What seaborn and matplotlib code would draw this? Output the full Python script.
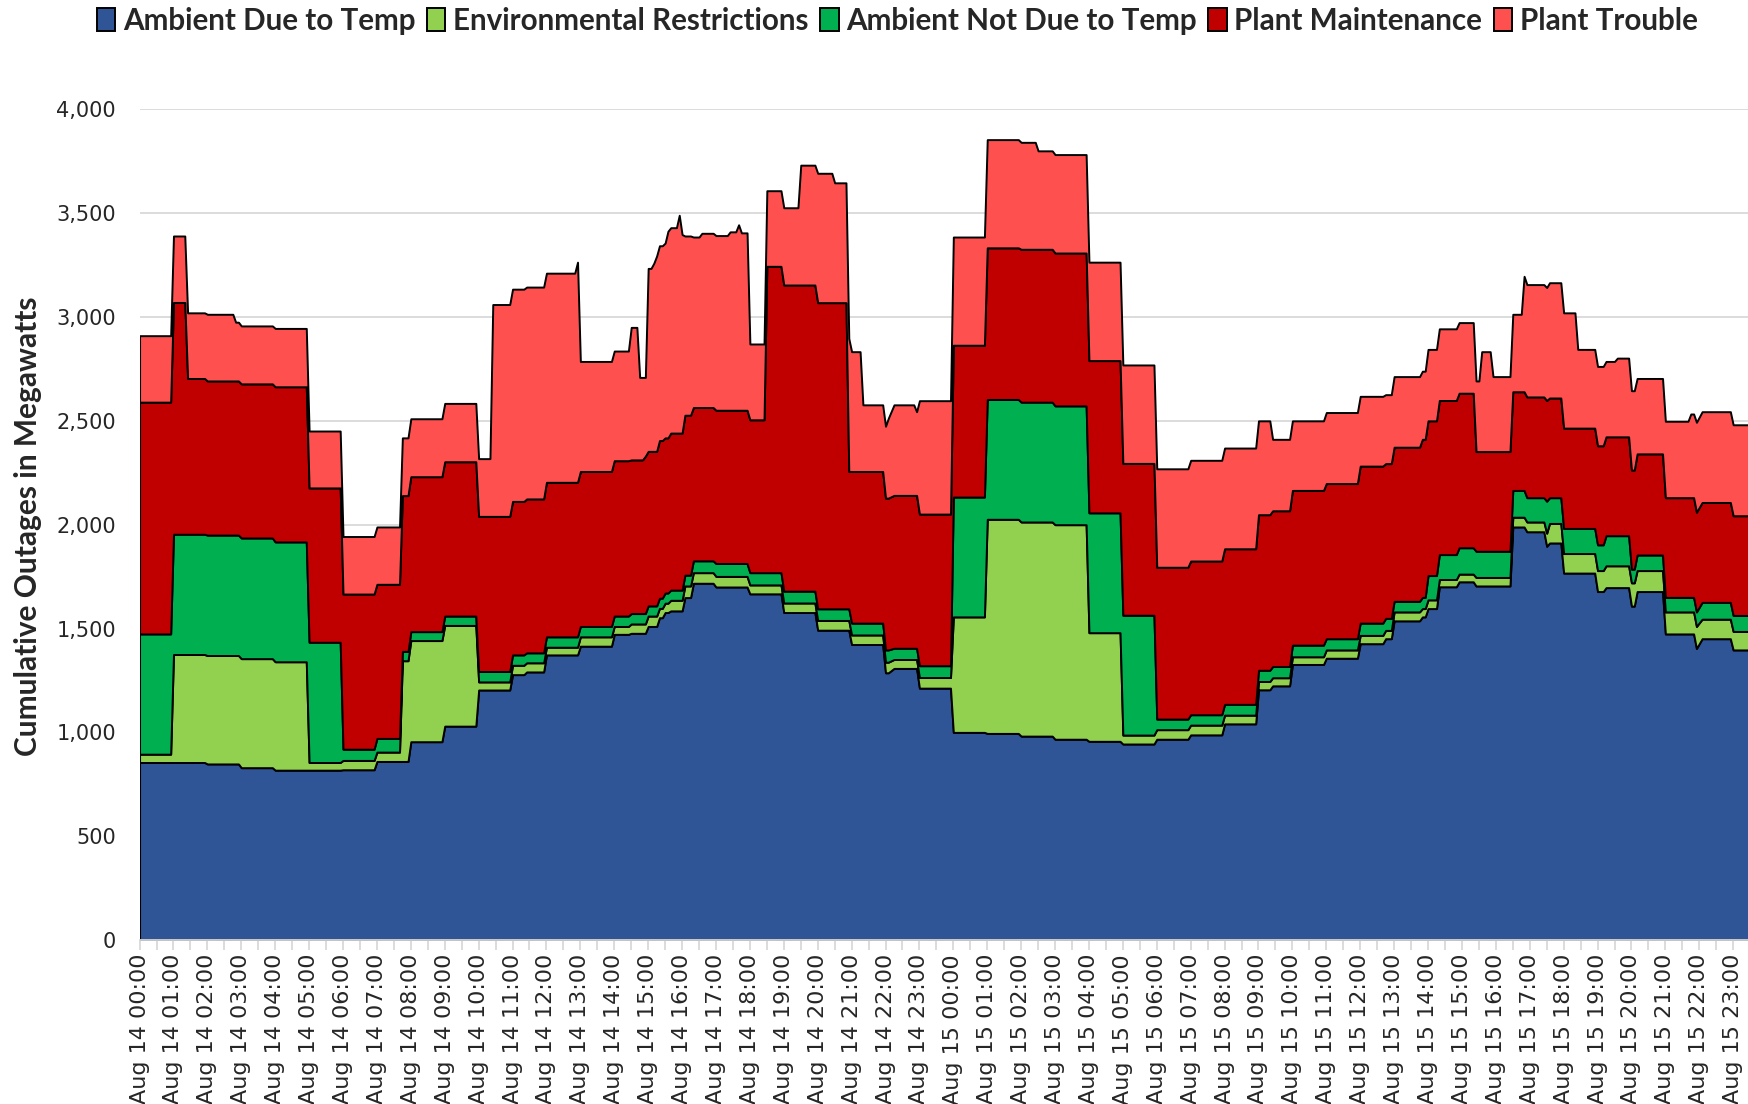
import pandas as pd
import matplotlib
matplotlib.use("Agg")
import matplotlib.pyplot as plt
import matplotlib.dates as mdates
import matplotlib.ticker as mticker
import seaborn as sns

# 5-minute readings at the points where the stack changes (MW)
stamps = [
    "08-14 00:00", "08-14 00:55", "08-14 01:00", "08-14 01:20", "08-14 01:25", "08-14 01:55",
    "08-14 02:00", "08-14 02:45", "08-14 02:50", "08-14 02:55", "08-14 03:00", "08-14 03:55",
    "08-14 04:00", "08-14 04:55", "08-14 05:00", "08-14 05:55", "08-14 06:00", "08-14 06:55",
    "08-14 07:00", "08-14 07:40", "08-14 07:45", "08-14 07:55", "08-14 08:00", "08-14 08:55",
    "08-14 09:00", "08-14 09:55", "08-14 10:00", "08-14 10:20", "08-14 10:25", "08-14 10:55",
    "08-14 11:00", "08-14 11:20", "08-14 11:25", "08-14 11:55", "08-14 12:00", "08-14 12:50",
    "08-14 12:55", "08-14 13:00", "08-14 13:55", "08-14 14:00", "08-14 14:25", "08-14 14:30",
    "08-14 14:40", "08-14 14:45", "08-14 14:50", "08-14 14:55", "08-14 15:00", "08-14 15:05",
    "08-14 15:10", "08-14 15:15", "08-14 15:20", "08-14 15:25", "08-14 15:30", "08-14 15:35",
    "08-14 15:40", "08-14 15:50", "08-14 15:55", "08-14 16:00", "08-14 16:05", "08-14 16:15",
    "08-14 16:20", "08-14 16:30", "08-14 16:35", "08-14 16:55", "08-14 17:00", "08-14 17:20",
    "08-14 17:25", "08-14 17:35", "08-14 17:40", "08-14 17:45", "08-14 17:55", "08-14 18:00",
    "08-14 18:25", "08-14 18:30", "08-14 18:55", "08-14 19:00", "08-14 19:25", "08-14 19:30",
    "08-14 19:55", "08-14 20:00", "08-14 20:25", "08-14 20:30", "08-14 20:50", "08-14 20:55",
    "08-14 21:00", "08-14 21:15", "08-14 21:20", "08-14 21:55", "08-14 22:00", "08-14 22:05",
    "08-14 22:15", "08-14 22:50", "08-14 22:55", "08-14 23:00", "08-14 23:55",
    "08-15 00:00", "08-15 00:55", "08-15 01:00", "08-15 01:55", "08-15 02:00", "08-15 02:25",
    "08-15 02:30", "08-15 02:55", "08-15 03:00", "08-15 03:55", "08-15 04:00", "08-15 04:55",
    "08-15 05:00", "08-15 05:55", "08-15 06:00", "08-15 06:55", "08-15 07:00", "08-15 07:55",
    "08-15 08:00", "08-15 08:55", "08-15 09:00", "08-15 09:20", "08-15 09:25", "08-15 09:55",
    "08-15 10:00", "08-15 10:55", "08-15 11:00", "08-15 11:55", "08-15 12:00", "08-15 12:40",
    "08-15 12:45", "08-15 12:55", "08-15 13:00", "08-15 13:45", "08-15 13:50", "08-15 13:55",
    "08-15 14:00", "08-15 14:15", "08-15 14:20", "08-15 14:50", "08-15 14:55", "08-15 15:20",
    "08-15 15:25", "08-15 15:30", "08-15 15:35", "08-15 15:50", "08-15 15:55", "08-15 16:25",
    "08-15 16:30", "08-15 16:45", "08-15 16:50", "08-15 16:55", "08-15 17:25", "08-15 17:30",
    "08-15 17:35", "08-15 17:55", "08-15 18:00", "08-15 18:20", "08-15 18:25", "08-15 18:55",
    "08-15 19:00", "08-15 19:10", "08-15 19:15", "08-15 19:30", "08-15 19:35", "08-15 19:55",
    "08-15 20:00", "08-15 20:05", "08-15 20:10", "08-15 20:55", "08-15 21:00", "08-15 21:40",
    "08-15 21:45", "08-15 21:50", "08-15 21:55", "08-15 22:05", "08-15 22:55", "08-15 23:00",
    "08-15 23:30",
]

ambient_temp = [
    855, 855, 855, 855, 855, 855,
    848, 848, 848, 848, 830, 830,
    818, 818, 818, 818, 820, 820,
    860, 860, 860, 860, 955, 955,
    1030, 1030, 1204, 1204, 1204, 1204,
    1278, 1278, 1291, 1291, 1373, 1373,
    1373, 1415, 1415, 1472, 1472, 1477,
    1477, 1477, 1477, 1477, 1510, 1510,
    1510, 1510, 1552, 1552, 1577, 1577,
    1585, 1585, 1585, 1585, 1649, 1649,
    1718, 1718, 1718, 1718, 1700, 1700,
    1700, 1700, 1700, 1700, 1700, 1667,
    1667, 1667, 1667, 1577, 1577, 1577,
    1577, 1492, 1492, 1492, 1492, 1492,
    1423, 1423, 1423, 1423, 1287, 1287,
    1308, 1308, 1308, 1213, 1213,
    1000, 1000, 995, 995, 982, 982,
    982, 982, 967, 967, 957, 957,
    944, 944, 967, 967, 988, 988,
    1041, 1041, 1205, 1205, 1224, 1224,
    1327, 1327, 1357, 1357, 1427, 1427,
    1451, 1451, 1537, 1537, 1556, 1556,
    1596, 1596, 1701, 1701, 1725, 1725,
    1705, 1705, 1705, 1705, 1705, 1705,
    1989, 1989, 1989, 1966, 1966, 1896,
    1912, 1912, 1767, 1767, 1767, 1767,
    1678, 1678, 1697, 1697, 1697, 1697,
    1608, 1608, 1678, 1678, 1474, 1474,
    1474, 1474, 1404, 1451, 1451, 1397,
    1397,
]

env_restrictions = [
    40, 40, 520, 520, 520, 520,
    522, 522, 522, 522, 525, 525,
    522, 522, 37, 37, 45, 45,
    45, 45, 485, 485, 487, 487,
    485, 485, 39, 39, 39, 39,
    45, 45, 44, 44, 37, 37,
    37, 45, 45, 38, 38, 45,
    45, 45, 45, 45, 50, 50,
    50, 50, 45, 45, 45, 45,
    51, 51, 51, 51, 56, 56,
    51, 51, 51, 51, 51, 51,
    51, 51, 51, 51, 51, 43,
    43, 43, 43, 46, 46, 46,
    46, 47, 47, 47, 47, 47,
    46, 46, 46, 46, 51, 51,
    43, 43, 43, 51, 51,
    556, 556, 1031, 1031, 1031, 1031,
    1031, 1031, 1033, 1033, 523, 523,
    43, 43, 46, 46, 47, 47,
    42, 42, 40, 40, 39, 39,
    37, 37, 40, 40, 40, 40,
    40, 40, 43, 43, 40, 40,
    42, 42, 35, 35, 37, 37,
    41, 41, 41, 41, 41, 41,
    47, 47, 47, 47, 47, 63,
    94, 94, 94, 94, 94, 94,
    101, 101, 105, 105, 105, 105,
    112, 112, 101, 101, 106, 106,
    106, 106, 106, 94, 94, 89,
    89,
]

ambient_other = [
    579, 579, 579, 579, 579, 579,
    580, 580, 580, 580, 581, 581,
    577, 577, 579, 579, 54, 54,
    66, 66, 45, 45, 43, 43,
    45, 45, 50, 50, 50, 50,
    50, 50, 48, 48, 50, 50,
    50, 50, 50, 50, 50, 50,
    50, 50, 50, 50, 49, 49,
    49, 49, 49, 49, 49, 49,
    49, 49, 49, 49, 52, 52,
    57, 57, 57, 57, 62, 62,
    62, 62, 62, 62, 62, 59,
    59, 59, 59, 57, 57, 57,
    57, 56, 56, 56, 56, 56,
    57, 57, 57, 57, 59, 59,
    54, 54, 54, 57, 57,
    577, 577, 577, 577, 577, 577,
    577, 577, 572, 572, 577, 577,
    577, 577, 51, 51, 50, 50,
    52, 52, 54, 54, 54, 54,
    56, 56, 54, 54, 59, 59,
    58, 58, 51, 51, 54, 54,
    117, 117, 120, 120, 127, 127,
    126, 126, 126, 126, 126, 126,
    129, 129, 129, 117, 117, 154,
    124, 124, 121, 121, 121, 121,
    124, 124, 145, 145, 145, 145,
    66, 66, 75, 75, 70, 70,
    70, 70, 70, 81, 81, 77,
    77,
]

plant_maint = [
    1116, 1116, 1116, 1116, 750, 750,
    742, 742, 742, 742, 742, 742,
    747, 747, 743, 743, 747, 747,
    742, 742, 750, 750, 746, 746,
    743, 743, 747, 747, 747, 747,
    739, 739, 741, 741, 744, 744,
    744, 746, 746, 748, 748, 740,
    740, 740, 740, 758, 744, 744,
    744, 744, 759, 759, 747, 747,
    756, 756, 756, 756, 770, 770,
    738, 738, 738, 738, 738, 738,
    738, 738, 738, 738, 738, 736,
    736, 1475, 1475, 1474, 1474, 1474,
    1474, 1474, 1474, 1474, 1474, 661,
    730, 730, 730, 730, 731, 731,
    736, 736, 736, 730, 730,
    731, 731, 730, 730, 736, 736,
    736, 736, 736, 736, 733, 733,
    731, 731, 731, 731, 740, 740,
    749, 749, 749, 749, 750, 750,
    745, 745, 747, 747, 756, 756,
    745, 745, 742, 742, 761, 761,
    745, 745, 742, 742, 744, 744,
    480, 480, 480, 480, 480, 480,
    475, 475, 475, 485, 485, 485,
    480, 480, 483, 483, 483, 483,
    477, 477, 476, 476, 476, 476,
    477, 477, 487, 487, 480, 480,
    480, 480, 480, 481, 481, 480,
    480,
]

plant_trouble = [
    320, 320, 320, 320, 316, 316,
    321, 321, 283, 283, 279, 279,
    281, 281, 274, 274, 277, 277,
    276, 276, 278, 278, 279, 279,
    281, 281, 278, 278, 1020, 1020,
    1022, 1022, 1020, 1020, 1007, 1007,
    1060, 530, 530, 528, 528, 638,
    638, 397, 397, 379, 881, 881,
    906, 941, 938, 938, 938, 995,
    989, 989, 1049, 956, 863, 863,
    821, 821, 839, 839, 841, 841,
    859, 859, 893, 854, 854, 365,
    365, 364, 364, 372, 372, 577,
    577, 623, 623, 577, 577, 641,
    577, 577, 321, 321, 346, 385,
    436, 436, 403, 546, 546,
    521, 521, 521, 521, 515, 515,
    474, 474, 474, 474, 474, 474,
    474, 474, 474, 474, 485, 485,
    485, 485, 452, 452, 344, 344,
    335, 335, 342, 342, 336, 336,
    332, 332, 340, 340, 328, 328,
    344, 344, 345, 345, 340, 340,
    340, 340, 481, 481, 361, 361,
    373, 373, 556, 541, 541, 544,
    555, 555, 555, 555, 379, 379,
    382, 382, 363, 363, 379, 379,
    382, 382, 363, 363, 368, 368,
    403, 403, 433, 437, 437, 438,
    438,
]

labels = ["Ambient Due to Temp", "Environmental Restrictions",
          "Ambient Not Due to Temp", "Plant Maintenance", "Plant Trouble"]
colors = ["#2F5597", "#92D050", "#00B050", "#C00000", "#FF5050"]

sns.set_theme(style="white")
plt.rcParams["font.family"] = ["DejaVu Sans"]

times = pd.to_datetime(stamps, format="%m-%d %H:%M")
x = mdates.date2num(times.to_pydatetime())
series = [ambient_temp, env_restrictions, ambient_other, plant_maint, plant_trouble]

fig = plt.figure(figsize=(17.49, 11.04), dpi=100)
ax = fig.add_axes([0.0798, 0.1485, 0.9202, 0.7525])

ax.stackplot(x, series, colors=colors, labels=labels,
             edgecolor="black", linewidth=1.4, zorder=2)

ax.set_ylim(0, 4000)
x_end = mdates.date2num(pd.to_datetime("08-15 23:28", format="%m-%d %H:%M"))
ax.set_xlim(x[0], x_end)

ax.yaxis.set_major_locator(mticker.MultipleLocator(500))
ax.yaxis.set_major_formatter(mticker.StrMethodFormatter("{x:,.0f}"))
ax.yaxis.grid(True, color="#D9D9D9", linewidth=1.3)
ax.set_axisbelow(True)
ax.tick_params(axis="y", length=0, pad=17, labelsize=15, labelcolor="#262626")

ax.xaxis.set_major_locator(mdates.HourLocator(interval=1))
ax.xaxis.set_minor_locator(mdates.MinuteLocator(byminute=[30]))
ax.xaxis.set_major_formatter(mdates.DateFormatter("%b %d %H:%M"))
ax.tick_params(axis="x", which="both", length=7, width=1.3, color="#D9D9D9",
               direction="out", bottom=True)
ax.tick_params(axis="x", which="major", labelsize=16, pad=3, labelrotation=90)

sns.despine(ax=ax, left=True, top=True, right=True)
ax.spines["bottom"].set_color("#D9D9D9")
ax.spines["bottom"].set_linewidth(1.3)
ax.spines["bottom"].set_zorder(3)

ax.set_ylabel("Cumulative Outages in Megawatts", family="Lato",
              fontweight="bold", fontsize=21.5)
ax.yaxis.set_label_coords(-0.0606, 0.498)

fig.legend(loc="center", bbox_to_anchor=(0.513, 0.981), ncol=5, frameon=False,
           prop={"family": "Lato", "weight": "bold", "size": 21.3},
           handlelength=0.62, handleheight=0.8, handletextpad=0.25,
           columnspacing=0.4)

fig.savefig("out.png", dpi=100)
